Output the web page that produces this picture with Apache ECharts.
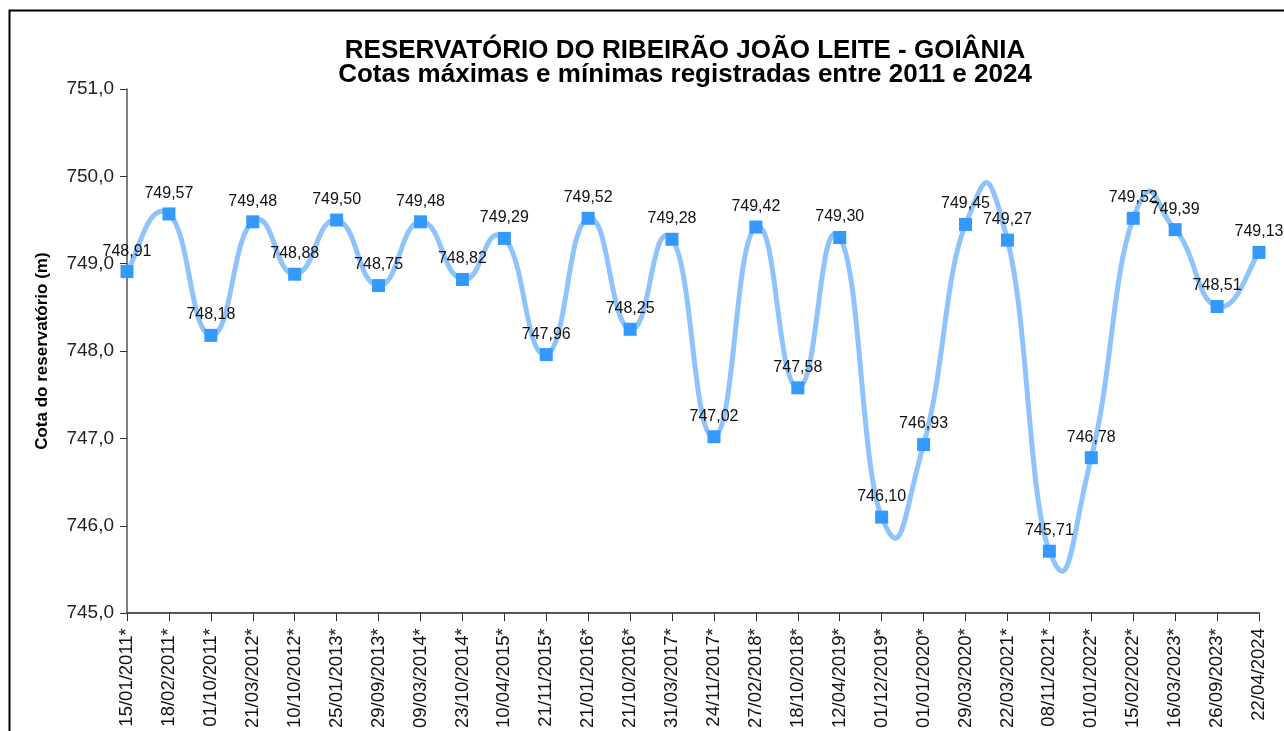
<!DOCTYPE html>
<html>
<head>
<meta charset="utf-8">
<title>Reservatório do Ribeirão João Leite</title>
<script src="https://cdn.jsdelivr.net/npm/echarts@6/dist/echarts.min.js"></script>
<style>
	html, body { margin: 0; padding: 0; background: #fff; }
	#chart { width: 1284px; height: 731px; }
</style>
</head>
<body>
<div id="chart"></div>
<script>
// datas das cotas (eixo x)
var datas = ["15/01/2011*", "18/02/2011*", "01/10/2011*", "21/03/2012*", "10/10/2012*", "25/01/2013*",
	"29/09/2013*", "09/03/2014*", "23/10/2014*", "10/04/2015*", "21/11/2015*", "21/01/2016*",
	"21/10/2016*", "31/03/2017*", "24/11/2017*", "27/02/2018*", "18/10/2018*", "12/04/2019*",
	"01/12/2019*", "01/01/2020*", "29/03/2020*", "22/03/2021*", "08/11/2021*", "01/01/2022*",
	"15/02/2022*", "16/03/2023*", "26/09/2023*", "22/04/2024"];
// cotas registradas (m)
var cotas = [748.91, 749.57, 748.18, 749.48, 748.88, 749.50,
	748.75, 749.48, 748.82, 749.29, 747.96, 749.52,
	748.25, 749.28, 747.02, 749.42, 747.58, 749.30,
	746.10, 746.93, 749.45, 749.27, 745.71, 746.78,
	749.52, 749.39, 748.51, 749.13];
// eixo y
var yMin = 745, yMax = 751, yPasso = 1;

var fonte = "'Liberation Sans', Arial, sans-serif";
var corLinha = "#8ec4fb";
var tensao = 0.25; //suavizacao da curva (tipo planilha)

function virgula(v, casas) {
	return v.toFixed(casas).replace(".", ",");
}

//desenha cada trecho da curva suavizada entre dois pontos
function trechoCurva(params, api) {
	var i = params.dataIndex;
	var n = cotas.length;
	if (i >= n - 1) return null;
	function pt(j) {
		j = Math.max(0, Math.min(n - 1, j));
		return api.coord([j, cotas[j]]);
	}
	var p0 = pt(i - 1), p1 = pt(i), p2 = pt(i + 1), p3 = pt(i + 2);
	return {
		type: "bezierCurve",
		shape: {
			x1: p1[0], y1: p1[1],
			x2: p2[0], y2: p2[1],
			cpx1: p1[0] + tensao * (p2[0] - p0[0]),
			cpy1: p1[1] + tensao * (p2[1] - p0[1]),
			cpx2: p2[0] - tensao * (p3[0] - p1[0]),
			cpy2: p2[1] - tensao * (p3[1] - p1[1])
		},
		style: { fill: null, stroke: corLinha, lineWidth: 5, lineCap: "round" },
		silent: true
	};
}

var myChart = echarts.init(document.getElementById("chart"));
myChart.setOption({
	animation: false,
	textStyle: { fontFamily: fonte },
	title: {
		text: "RESERVATÓRIO DO RIBEIRÃO JOÃO LEITE - GOIÂNIA\nCotas máximas e mínimas registradas entre 2011 e 2024",
		left: 680,
		textAlign: "center",
		top: 34,
		textStyle: {
			fontFamily: fonte,
			fontSize: 26,
			fontWeight: "bold",
			color: "#000",
			lineHeight: 24
		}
	},
	//moldura externa
	graphic: [{
		type: "rect",
		shape: { x: 9.5, y: 10.5, width: 1300, height: 800 },
		style: { fill: "none", stroke: "#000", lineWidth: 2 },
		silent: true
	}],
	grid: {
		left: 127,
		right: 25,
		top: 89,
		bottom: 115
	},
	xAxis: {
		type: "category",
		data: datas,
		boundaryGap: false,
		axisLine: { lineStyle: { color: "#555", width: 2 } },
		axisTick: { alignWithLabel: true, length: 8, lineStyle: { color: "#333" } },
		axisLabel: {
			rotate: 90,
			interval: 0,
			fontSize: 18.5,
			color: "#111",
			margin: 15,
			fontFamily: fonte
		},
		splitLine: { show: false }
	},
	yAxis: {
		type: "value",
		min: yMin,
		max: yMax,
		interval: yPasso,
		name: "Cota do reservatório (m)",
		nameLocation: "middle",
		nameGap: 76,
		nameTextStyle: {
			fontSize: 17,
			fontWeight: "bold",
			color: "#000",
			fontFamily: fonte
		},
		axisLine: { show: true, lineStyle: { color: "#555", width: 1.5 } },
		axisTick: { show: true, length: 7, lineStyle: { color: "#333" } },
		axisLabel: {
			fontSize: 19,
			color: "#222",
			margin: 13,
			fontFamily: fonte,
			formatter: function (v) { return virgula(v, 1); }
		},
		splitLine: { show: false }
	},
	series: [{
		//curva
		type: "custom",
		data: cotas.map(function (v, i) { return [i, v]; }),
		encode: { x: 0, y: 1 },
		renderItem: trechoCurva,
		clip: false,
		z: 2
	}, {
		//marcadores e rotulos
		type: "line",
		data: cotas,
		symbol: "rect",
		symbolSize: 13,
		lineStyle: { opacity: 0 },
		itemStyle: { color: "#3399ff" },
		label: {
			show: true,
			position: "top",
			distance: 6,
			fontSize: 16,
			color: "#111",
			fontFamily: fonte,
			formatter: function (p) { return virgula(p.value, 2); }
		},
		z: 3
	}]
});
</script>
</body>
</html>
